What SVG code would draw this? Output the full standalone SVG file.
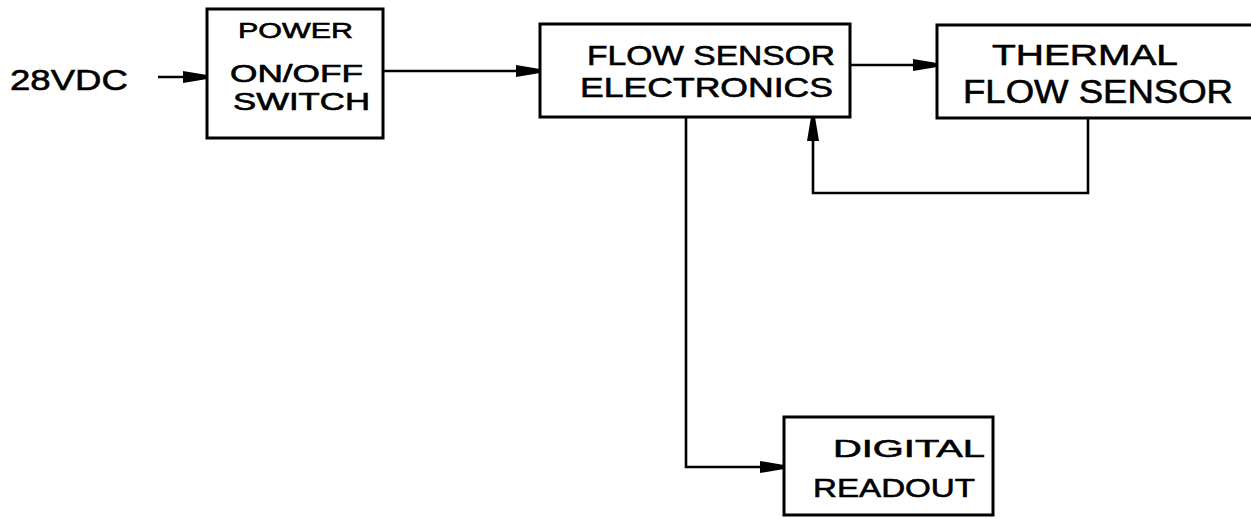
<svg xmlns="http://www.w3.org/2000/svg" width="1251" height="519" viewBox="0 0 1251 519">
<style>
.box{fill:#fff;stroke:#000;stroke-width:3}
.t{font-family:"Liberation Sans",Arial,sans-serif;fill:#000;stroke:#000;stroke-width:0.6}
.c{fill:none;stroke:#000;stroke-width:2.6}
</style>
<defs>
<marker id="ah" viewBox="0 0 24 14" refX="24" refY="7" markerWidth="24" markerHeight="14" markerUnits="userSpaceOnUse" orient="auto">
<path d="M0,1 L24,5 L24,9 L0,13 Z" fill="#000"/>
</marker>
</defs>
<rect width="1251" height="519" fill="#fff"/>
<text class="t" x="10" y="90" font-size="30" textLength="118" lengthAdjust="spacingAndGlyphs">28VDC</text>
<g id="power">
<rect class="box" x="207" y="9" width="176" height="129"/>
<text class="t" x="238" y="38" font-size="22" textLength="115" lengthAdjust="spacingAndGlyphs">POWER</text>
<text class="t" x="230" y="82" font-size="23" textLength="133" lengthAdjust="spacingAndGlyphs">ON/OFF</text>
<text class="t" x="233" y="110" font-size="23" textLength="137" lengthAdjust="spacingAndGlyphs">SWITCH</text>
</g>
<g id="electronics">
<rect class="box" x="540" y="24" width="310" height="93"/>
<text class="t" x="587" y="65" font-size="27" textLength="248" lengthAdjust="spacingAndGlyphs">FLOW SENSOR</text>
<text class="t" x="580" y="97" font-size="27" textLength="253" lengthAdjust="spacingAndGlyphs">ELECTRONICS</text>
</g>
<g id="thermal">
<rect class="box" x="937" y="25" width="330" height="93"/>
<text class="t" x="992" y="65" font-size="30" textLength="186" lengthAdjust="spacingAndGlyphs">THERMAL</text>
<text class="t" x="963" y="103" font-size="33" textLength="270" lengthAdjust="spacingAndGlyphs">FLOW SENSOR</text>
</g>
<g id="readout">
<rect class="box" x="784" y="417" width="209" height="98"/>
<text class="t" x="833" y="457" font-size="24" textLength="152" lengthAdjust="spacingAndGlyphs">DIGITAL</text>
<text class="t" x="813" y="497" font-size="26" textLength="162" lengthAdjust="spacingAndGlyphs">READOUT</text>
</g>
<g id="connectors">
<path class="c" d="M158,77 L207,77" marker-end="url(#ah)"/>
<path class="c" d="M383,71 L540,71" marker-end="url(#ah)"/>
<path class="c" d="M850,65 L937,65" marker-end="url(#ah)"/>
<path class="c" d="M1088,118 L1088,193 L813,193 L813,117" marker-end="url(#ah)"/>
<path class="c" d="M686,117 L686,467 L784,467" marker-end="url(#ah)"/>
</g>
</svg>
